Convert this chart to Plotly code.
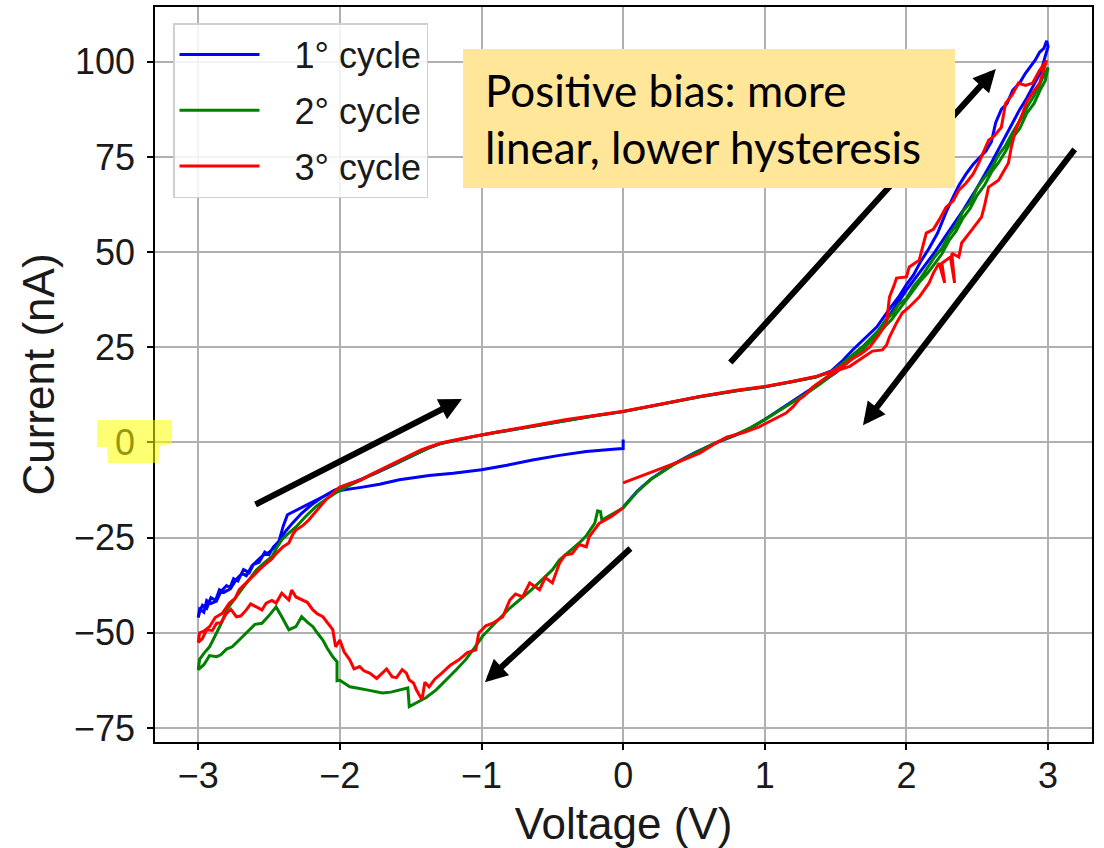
import plotly.graph_objects as go

# ---------------- data ----------------
# cycle 1 : 0 V -> -3 V
c1_neg_v = [0.0, 0.0, -0.05, -0.15, -0.26, -0.45, -0.64, -0.82, -1.0, -1.2, -1.37, -1.58, -1.72, -1.85, -1.98, -2.08, -2.2, -2.3, -2.37, -2.4, -2.43,
            -2.47, -2.5, -2.53, -2.57, -2.61, -2.64, -2.68, -2.72, -2.75, -2.78, -2.82, -2.85, -2.88, -2.91, -2.94, -2.96, -2.99, -3.0]
c1_neg_i = [0.8, -1.6, -1.7, -2.0, -2.4, -3.4, -4.6, -6.0, -7.2, -8.1, -8.7, -9.8, -11.0, -11.8, -12.5, -13.5, -15.8, -17.8, -19.0, -22.0, -26.0,
            -27.5, -29.5, -28.8, -31.5, -32.0, -34.2, -33.4, -36.4, -35.8, -38.6, -39.4, -38.7, -41.8, -42.3, -41.5, -44.6, -43.8, -46.0]
# cycle 1 : -3 V -> +3 V
c1_pos_v = [-2.99, -2.97, -2.94, -2.91, -2.87, -2.84, -2.8, -2.77, -2.73, -2.69, -2.66, -2.62, -2.58, -2.54, -2.5, -2.46, -2.42, -2.38, -2.33, -2.27,
            -2.2, -2.12, -2.04, -1.95, -1.85, -1.75, -1.65, -1.55, -1.45, -1.37, -1.28, -1.18, -1.05, -0.9, -0.7, -0.4, -0.2, 0.0, 0.27, 0.54,
            0.8, 1.0, 1.2, 1.36, 1.47, 1.55, 1.62, 1.7, 1.79, 1.88, 1.95, 2.0, 2.05, 2.1, 2.16, 2.22, 2.28, 2.33, 2.37, 2.42,
            2.47, 2.52, 2.56, 2.6, 2.63, 2.67, 2.71, 2.75, 2.8, 2.84, 2.88, 2.91, 2.94, 2.97, 2.99, 3.0]
c1_pos_i = [-44.5, -42.8, -43.6, -40.8, -41.6, -39.2, -37.6, -38.3, -35.9, -34.4, -35.0, -32.4, -31.0, -29.6, -28.9, -27.4, -25.4, -23.2, -21.0, -18.6,
            -16.4, -14.3, -12.6, -11.2, -9.8, -8.1, -6.4, -4.6, -2.8, -1.4, -0.2, 0.6, 1.6, 2.6, 3.9, 5.9, 7.0, 8.1, 10.0, 12.0,
            13.6, 14.6, 16.0, 17.2, 18.8, 21.5, 24.3, 27.0, 30.3, 35.0, 38.5, 41.5, 44.0, 47.5, 51.0, 55.0, 60.5, 64.5, 67.5, 70.5,
            73.0, 75.0, 76.5, 79.0, 84.0, 87.5, 89.0, 92.5, 94.5, 97.0, 99.0, 100.5, 102.5, 103.5, 105.5, 104.0]
# cycle 1 : +3 V -> 0 V
c1_ret_v = [2.98, 2.95, 2.9, 2.85, 2.8, 2.75, 2.7, 2.6, 2.5, 2.4, 2.3, 2.2, 2.1, 2.0, 1.9, 1.8, 1.7, 1.6, 1.5, 1.4,
            1.3, 1.2, 1.1, 1.0, 0.9, 0.8, 0.65, 0.5, 0.35, 0.2, 0.1, 0.0]
c1_ret_i = [101.5, 97.5, 94.0, 90.5, 87.5, 84.0, 80.5, 73.5, 67.0, 61.0, 55.5, 50.0, 45.0, 40.0, 34.5, 29.0, 25.0, 21.5, 18.3, 15.8,
            13.3, 10.8, 8.3, 6.0, 3.8, 2.0, -0.2, -2.8, -5.8, -9.5, -12.8, -17.0]

# cycle 2
c2_neg_v = [0.0, -0.08, -0.15, -0.16, -0.18, -0.2, -0.26, -0.31, -0.38, -0.45, -0.5, -0.57, -0.65, -0.72, -0.8, -0.9, -0.99, -1.05, -1.11, -1.18,
            -1.25, -1.32, -1.39, -1.45, -1.51, -1.52, -1.58, -1.64, -1.7, -1.76, -1.81, -1.87, -1.93, -2.0, -2.02, -2.02, -2.05, -2.09, -2.12, -2.16,
            -2.19, -2.23, -2.27, -2.31, -2.36, -2.41, -2.45, -2.5, -2.55, -2.6, -2.64, -2.7, -2.76, -2.8, -2.84, -2.87, -2.92, -2.96, -3.0]
c2_neg_i = [-17.2, -18.8, -20.4, -18.2, -18.0, -21.2, -24.5, -26.4, -28.7, -30.9, -33.5, -36.0, -38.8, -41.0, -43.5, -47.3, -50.8, -54.0, -57.0, -59.8,
            -62.4, -65.0, -67.0, -68.2, -69.4, -64.5, -65.0, -65.6, -65.8, -65.3, -65.0, -64.6, -64.2, -62.5, -62.6, -57.6, -56.3, -54.0, -51.9, -50.0,
            -48.4, -47.2, -45.8, -48.4, -49.2, -45.8, -43.2, -45.5, -47.5, -47.8, -49.2, -51.5, -53.7, -54.3, -55.8, -56.3, -56.0, -58.4, -59.7]
c2_pos_v = [-2.99, -2.96, -2.92, -2.89, -2.87, -2.83, -2.8, -2.76, -2.71, -2.65, -2.59, -2.53, -2.48, -2.44, -2.41, -2.36, -2.31, -2.24, -2.17, -2.1,
            -2.03, -1.95, -1.85, -1.75, -1.65, -1.55, -1.45, -1.37, -1.28, -1.18, -1.05, -0.9, -0.7, -0.4, -0.2, 0.0, 0.27, 0.54, 0.8, 1.0,
            1.2, 1.36, 1.47, 1.55, 1.62, 1.7, 1.8, 1.85, 1.9, 1.95, 2.0, 2.05, 2.1, 2.15, 2.2, 2.25, 2.3, 2.35, 2.4, 2.45,
            2.5, 2.55, 2.6, 2.65, 2.7, 2.75, 2.8, 2.85, 2.9, 2.94, 2.97, 3.0]
c2_pos_i = [-57.0, -55.4, -53.7, -51.5, -50.0, -47.0, -44.0, -42.0, -39.6, -36.3, -33.5, -31.5, -30.0, -27.3, -25.6, -23.8, -22.2, -19.4, -16.9, -15.0,
            -13.3, -11.6, -9.9, -8.0, -6.3, -4.5, -2.7, -1.4, -0.2, 0.6, 1.6, 2.6, 3.9, 5.9, 7.0, 8.1, 10.0, 12.0, 13.6, 14.6,
            16.0, 17.2, 18.6, 20.8, 23.0, 25.5, 29.3, 32.0, 33.8, 36.5, 37.8, 41.0, 43.2, 46.0, 48.8, 51.0, 54.5, 57.0, 60.8, 63.0,
            67.0, 69.5, 72.0, 75.5, 78.0, 81.5, 84.5, 88.0, 91.0, 94.0, 96.5, 98.5]
c2_ret_v = [2.98, 2.95, 2.9, 2.85, 2.8, 2.75, 2.7, 2.65, 2.6, 2.55, 2.5, 2.45, 2.4, 2.35, 2.3, 2.25, 2.2, 2.15, 2.1, 2.05,
            2.0, 1.95, 1.9, 1.85, 1.8, 1.7, 1.6, 1.5, 1.4, 1.3, 1.2, 1.1, 1.0, 0.9, 0.8, 0.65, 0.5, 0.35, 0.2, 0.1, 0.0]
c2_ret_i = [95.0, 93.0, 89.0, 86.5, 82.5, 80.0, 76.5, 73.5, 71.0, 67.5, 65.0, 61.5, 59.0, 55.5, 53.0, 49.5, 47.0, 44.5, 42.5, 40.0,
            37.5, 35.0, 32.5, 30.5, 28.5, 24.8, 21.5, 18.5, 15.6, 13.0, 10.6, 8.2, 6.0, 3.9, 2.1, -0.1, -2.9, -6.0, -9.6, -12.9, -17.2]

# cycle 3
c3_neg_v = [0.0, -0.08, -0.17, -0.24, -0.26, -0.31, -0.36, -0.41, -0.45, -0.5, -0.55, -0.59, -0.66, -0.71, -0.76, -0.8, -0.85, -0.92, -0.97, -1.02,
            -1.04, -1.1, -1.16, -1.22, -1.28, -1.33, -1.37, -1.4, -1.42, -1.46, -1.48, -1.51, -1.53, -1.56, -1.6, -1.63, -1.67, -1.7, -1.74, -1.79,
            -1.83, -1.86, -1.9, -1.93, -1.97, -2.0, -2.03, -2.05, -2.09, -2.12, -2.16, -2.19, -2.23, -2.27, -2.31, -2.34, -2.36, -2.41, -2.45, -2.48,
            -2.52, -2.55, -2.59, -2.63, -2.66, -2.7, -2.73, -2.77, -2.8, -2.84, -2.87, -2.9, -2.94, -2.97, -3.0]
c3_neg_i = [-17.2, -19.4, -21.3, -24.8, -27.4, -26.8, -29.2, -29.6, -31.8, -36.9, -35.5, -38.7, -36.9, -40.6, -39.8, -41.4, -45.8, -47.5, -48.2, -50.1,
            -54.5, -55.2, -57.1, -58.5, -60.6, -62.2, -64.2, -63.0, -67.6, -65.0, -63.2, -62.4, -60.6, -59.7, -61.8, -61.6, -59.5, -60.6, -62.0, -60.6,
            -60.0, -58.9, -59.5, -57.1, -55.0, -51.9, -53.7, -49.2, -47.2, -45.8, -45.0, -44.0, -42.0, -41.4, -40.6, -38.8, -41.4, -39.6, -42.2, -41.5,
            -42.2, -44.0, -43.2, -42.4, -44.0, -45.6, -45.8, -43.8, -44.9, -47.4, -47.5, -49.4, -49.2, -51.5, -52.5]
c3_pos_v = [-2.99, -2.96, -2.92, -2.88, -2.83, -2.78, -2.74, -2.71, -2.66, -2.62, -2.57, -2.52, -2.48, -2.45, -2.4, -2.36, -2.33, -2.31, -2.26, -2.22,
            -2.16, -2.1, -2.05, -2.0, -1.93, -1.86, -1.79, -1.7, -1.6, -1.5, -1.43, -1.37, -1.28, -1.18, -1.05, -0.9, -0.7, -0.4, -0.2, 0.0,
            0.27, 0.54, 0.8, 1.0, 1.2, 1.36, 1.47, 1.55, 1.62, 1.68, 1.74, 1.8, 1.86, 1.88, 1.91, 1.93, 2.0, 2.02, 2.09, 2.14,
            2.19, 2.23, 2.28, 2.33, 2.37, 2.42, 2.47, 2.51, 2.58, 2.62, 2.67, 2.7, 2.75, 2.79, 2.84, 2.89, 2.94, 2.99]
c3_pos_i = [-50.0, -49.6, -48.4, -46.0, -44.9, -42.2, -41.0, -38.7, -36.8, -35.3, -33.5, -31.8, -30.6, -29.2, -27.4, -26.4, -24.0, -23.0, -21.8, -20.4,
            -17.6, -15.1, -13.4, -11.7, -10.8, -10.0, -8.6, -7.0, -5.2, -3.4, -2.0, -1.2, -0.1, 0.7, 1.7, 2.7, 4.0, 6.0, 7.1, 8.2,
            10.1, 12.1, 13.7, 14.7, 16.1, 17.3, 18.6, 20.2, 22.0, 23.3, 25.0, 28.0, 31.4, 38.2, 41.0, 43.2, 43.5, 46.1, 47.9, 55.0,
            56.0, 58.4, 61.8, 63.5, 66.3, 68.1, 70.5, 73.4, 79.4, 80.5, 82.8, 89.1, 91.5, 94.4, 93.8, 94.4, 97.8, 100.4]
c3_ret_v = [2.97, 2.94, 2.89, 2.85, 2.82, 2.77, 2.74, 2.72, 2.65, 2.58, 2.55, 2.53, 2.46, 2.39, 2.37, 2.32, 2.34, 2.31, 2.25, 2.27,
            2.23, 2.19, 2.16, 2.09, 2.02, 1.97, 1.93, 1.88, 1.86, 1.83, 1.76, 1.67, 1.6, 1.52, 1.45, 1.34, 1.28, 1.24, 1.2, 1.15,
            1.05, 0.96, 0.85, 0.73, 0.65, 0.54, 0.4, 0.3, 0.15, 0.0]
c3_ret_i = [98.0, 94.4, 91.8, 89.5, 86.5, 82.0, 77.5, 73.4, 68.9, 67.1, 62.0, 59.2, 55.8, 52.4, 48.7, 49.7, 41.9, 48.7, 47.1, 41.9,
            47.1, 44.5, 41.9, 38.2, 35.6, 34.0, 31.4, 27.7, 25.6, 24.3, 24.0, 21.7, 20.0, 19.0, 17.5, 14.6, 12.3, 11.2, 9.4, 7.7,
            5.8, 4.1, 2.6, 1.4, -0.3, -2.8, -5.0, -6.4, -8.6, -10.6]

cycle_names = ["1° cycle", "2° cycle", "3° cycle"]
cycle_colors = ["#0000ff", "#008000", "#ff0000"]
x_ticks = [-3, -2, -1, 0, 1, 2, 3]
y_ticks = [-75, -50, -25, 0, 25, 50, 75, 100]

cycles_v = [c1_neg_v + c1_pos_v + c1_ret_v,
            c2_neg_v + c2_pos_v + c2_ret_v,
            c3_neg_v + c3_pos_v + c3_ret_v]
cycles_i = [c1_neg_i + c1_pos_i + c1_ret_i,
            c2_neg_i + c2_pos_i + c2_ret_i,
            c3_neg_i + c3_pos_i + c3_ret_i]

# ---------------- figure ----------------
W, H = 1104, 848
ML, MR, MT, MB = 155, 12, 7, 106
PW, PH = W - ML - MR, H - MT - MB

def px(x):
    return (x - ML) / PW

def py(y):
    return (H - MB - y) / PH

NBSP = "\u00a0"

fig = go.Figure()
for k in range(3):
    fig.add_trace(go.Scatter(
        x=cycles_v[k], y=cycles_i[k], mode="lines", name=NBSP * 3 + cycle_names[k],
        legendgroup=f"g{k}",
        line=dict(color=cycle_colors[k], width=3)))

FAM = "Liberation Sans, Arial, sans-serif"
axis_font = dict(family=FAM, size=36, color="#1a1a1a")
title_font = dict(family=FAM, size=44, color="#1a1a1a")

fig.update_layout(
    width=W, height=H,
    margin=dict(l=ML, r=MR, t=MT, b=MB, pad=0, autoexpand=False),
    paper_bgcolor="white", plot_bgcolor="white",
    showlegend=True,
    legend=dict(
        x=px(173), y=py(23), xanchor="left", yanchor="top",
        bgcolor="rgba(255,255,255,0.85)", bordercolor="#d0d0d0", borderwidth=1.5,
        font=dict(family=FAM, size=36, color="#1a1a1a"),
        itemwidth=80, tracegroupgap=6, traceorder="grouped"),
    xaxis=dict(
        range=[-3.305, 3.31], tickmode="array", tickvals=x_ticks,
        ticks="outside", ticklen=6, tickwidth=1.5, tickcolor="black",
        showline=True, linecolor="black", linewidth=1.5, mirror=True,
        showgrid=True, gridcolor="#b0b0b0", gridwidth=1.5, zeroline=False,
        tickfont=axis_font, ticklabelstandoff=-5, automargin=False,
        title=dict(text="Voltage (V)", font=title_font, standoff=22)),
    yaxis=dict(
        range=[-78.7, 114.4], tickmode="array", tickvals=y_ticks,
        ticks="outside", ticklen=6, tickwidth=1.5, tickcolor="black",
        showline=True, linecolor="black", linewidth=1.5, mirror=True,
        showgrid=True, gridcolor="#b0b0b0", gridwidth=1.5, zeroline=False,
        tickfont=axis_font, ticklabelstandoff=5, automargin=False,
        title=dict(text="Current (nA)", font=title_font, standoff=6)),
)

# arrows (tail -> tip, in data units)
arrows = [
    ((-2.606, -16.5), (-1.138, 11.4)),
    ((0.747, 20.6), (2.631, 98.1)),
    ((3.196, 77.4), (1.693, 4.5)),
    ((0.062, -27.5), (-0.976, -63.0)),
]
for (tx, ty), (hx, hy) in arrows:
    fig.add_annotation(x=hx, y=hy, ax=tx, ay=ty, xref="x", yref="y", axref="x", ayref="y",
                       text="", showarrow=True, arrowhead=2, arrowsize=0.75, arrowwidth=6,
                       arrowcolor="black", standoff=0)

# text box background (drawn after the arrows so it covers them)
fig.add_annotation(
    x=px(463), y=py(49), xref="paper", yref="paper", xanchor="left", yanchor="top",
    text=" ", showarrow=False, bgcolor="#ffe699", borderpad=0, borderwidth=0,
    width=492, height=139, font=dict(size=10))
fig.add_annotation(
    x=px(484), y=py(118), xref="paper", yref="paper", xanchor="left", yanchor="middle",
    text="Positive bias: more<br>linear, lower hysteresis", showarrow=False, align="left",
    font=dict(family="Lato, Carlito, sans-serif", size=44, color="black"), borderpad=0)

# yellow highlight over the "0" tick label
hl = [(97, 420), (172, 420), (172, 444), (160, 446), (158, 463), (108, 463), (107, 447), (97, 447)]
path = "M " + " L ".join(f"{px(a):.5f},{py(b):.5f}" for a, b in hl) + " Z"
fig.add_shape(type="path", path=path, xref="paper", yref="paper",
              fillcolor="rgba(255,255,0,0.55)", line=dict(width=0), layer="above")

fig.write_html("out.html")
